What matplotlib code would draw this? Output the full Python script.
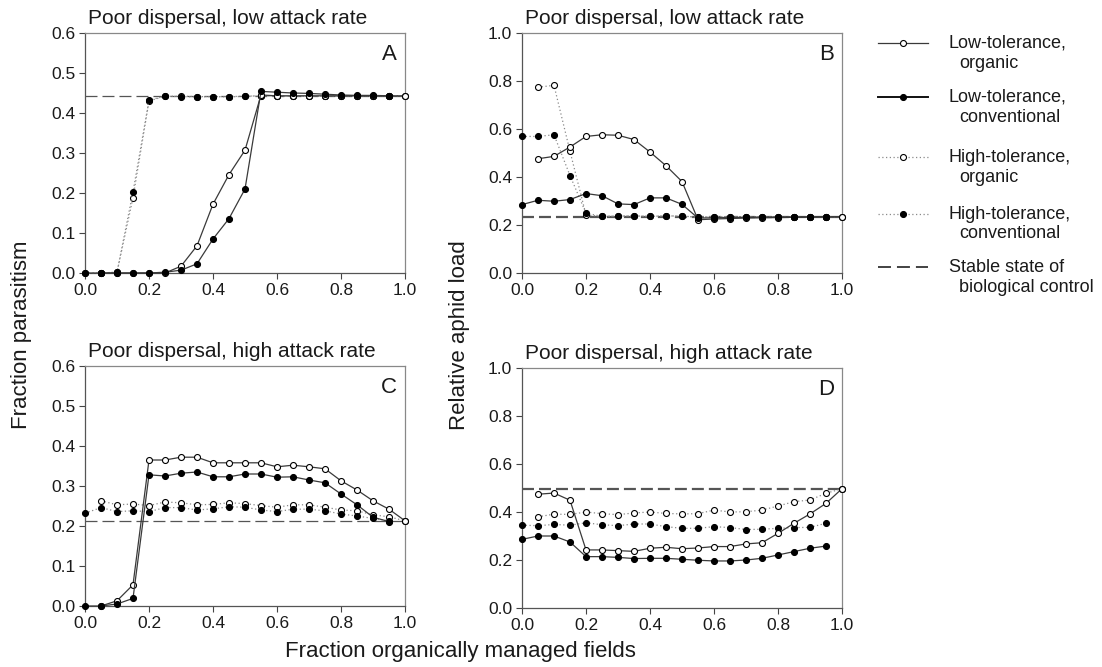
import matplotlib
matplotlib.use("Agg")
import matplotlib.pyplot as plt
from matplotlib.lines import Line2D

plt.rcParams['font.family'] = ['Liberation Sans', 'DejaVu Sans']

# ---------------- data ----------------
x_conv = [0.00, 0.05, 0.10, 0.15, 0.20, 0.25, 0.30, 0.35, 0.40, 0.45,
          0.50, 0.55, 0.60, 0.65, 0.70, 0.75, 0.80, 0.85, 0.90, 0.95]
x_org = [0.05, 0.10, 0.15, 0.20, 0.25, 0.30, 0.35, 0.40, 0.45, 0.50,
         0.55, 0.60, 0.65, 0.70, 0.75, 0.80, 0.85, 0.90, 0.95, 1.00]

# Panel A: fraction parasitism, poor dispersal, low attack rate
A_lo_org = [0.0, 0.0, 0.0, 0.0, 0.0, 0.017, 0.068, 0.172, 0.246, 0.307,
            0.445, 0.443, 0.443, 0.443, 0.443, 0.443, 0.443, 0.443, 0.443, 0.443]
A_lo_conv = [0.0, 0.0, 0.0, 0.0, 0.0, 0.002, 0.007, 0.023, 0.085, 0.136,
             0.210, 0.454, 0.452, 0.450, 0.449, 0.447, 0.445, 0.444, 0.444, 0.443]
A_hi_org = [0.0, 0.002, 0.188, 0.430, 0.442, 0.442, 0.441, 0.441, 0.441, 0.442,
            0.443, 0.442, 0.442, 0.442, 0.442, 0.442, 0.443, 0.443, 0.443, 0.443]
A_hi_conv = [0.0, 0.0, 0.002, 0.203, 0.432, 0.442, 0.441, 0.440, 0.441, 0.440,
             0.442, 0.443, 0.442, 0.442, 0.442, 0.442, 0.442, 0.443, 0.443, 0.443]
A_stable = 0.443

# Panel B: relative aphid load, poor dispersal, low attack rate
B_lo_org = [0.476, 0.486, 0.525, 0.569, 0.576, 0.574, 0.556, 0.504, 0.447, 0.381,
            0.222, 0.225, 0.227, 0.229, 0.230, 0.231, 0.232, 0.233, 0.234, 0.235]
B_lo_conv = [0.285, 0.303, 0.299, 0.306, 0.331, 0.322, 0.288, 0.285, 0.313, 0.313,
             0.286, 0.229, 0.230, 0.231, 0.232, 0.233, 0.233, 0.234, 0.234, 0.235]
B_hi_org = [0.774, 0.782, 0.507, 0.242, 0.236, 0.237, 0.238, 0.236, 0.238, 0.237,
            0.233, 0.235, 0.235, 0.235, 0.235, 0.235, 0.235, 0.235, 0.235, 0.235]
B_hi_conv = [0.569, 0.569, 0.576, 0.406, 0.249, 0.236, 0.237, 0.238, 0.236, 0.238,
             0.237, 0.232, 0.235, 0.235, 0.235, 0.235, 0.235, 0.235, 0.235, 0.235]
B_stable = 0.235

# Panel C: fraction parasitism, poor dispersal, high attack rate
C_lo_org = [0.0, 0.013, 0.053, 0.365, 0.365, 0.372, 0.372, 0.358, 0.358, 0.358,
            0.358, 0.348, 0.352, 0.348, 0.343, 0.313, 0.290, 0.263, 0.242, 0.213]
C_lo_conv = [0.0, 0.0, 0.005, 0.019, 0.328, 0.325, 0.332, 0.335, 0.323, 0.323,
             0.330, 0.330, 0.322, 0.323, 0.315, 0.308, 0.280, 0.253, 0.222, 0.211]
C_hi_org = [0.263, 0.253, 0.255, 0.251, 0.260, 0.258, 0.253, 0.254, 0.258, 0.256,
            0.251, 0.247, 0.253, 0.253, 0.247, 0.240, 0.238, 0.228, 0.223, 0.213]
C_hi_conv = [0.232, 0.246, 0.236, 0.238, 0.236, 0.246, 0.246, 0.240, 0.243, 0.248,
             0.247, 0.240, 0.236, 0.242, 0.242, 0.238, 0.230, 0.225, 0.219, 0.213]
C_stable = 0.212

# Panel D: relative aphid load, poor dispersal, high attack rate
D_lo_org = [0.474, 0.479, 0.449, 0.242, 0.242, 0.239, 0.236, 0.249, 0.253, 0.247,
            0.250, 0.256, 0.256, 0.267, 0.272, 0.311, 0.353, 0.392, 0.436, 0.497]
D_lo_conv = [0.286, 0.300, 0.300, 0.275, 0.214, 0.214, 0.211, 0.206, 0.207, 0.207,
             0.203, 0.199, 0.196, 0.196, 0.200, 0.207, 0.221, 0.235, 0.249, 0.258]
D_hi_org = [0.380, 0.391, 0.390, 0.400, 0.393, 0.389, 0.396, 0.400, 0.394, 0.392,
            0.393, 0.408, 0.400, 0.401, 0.408, 0.425, 0.443, 0.450, 0.478, 0.497]
D_hi_conv = [0.345, 0.343, 0.348, 0.345, 0.355, 0.347, 0.343, 0.350, 0.350, 0.339,
             0.332, 0.332, 0.339, 0.335, 0.327, 0.328, 0.332, 0.335, 0.336, 0.353]
D_stable = 0.495

titles = ["Poor dispersal, low attack rate", "Poor dispersal, low attack rate",
          "Poor dispersal, high attack rate", "Poor dispersal, high attack rate"]
letters = ["A", "B", "C", "D"]
legend_labels = [("Low-tolerance,", "organic"), ("Low-tolerance,", "conventional"),
                 ("High-tolerance,", "organic"), ("High-tolerance,", "conventional"),
                 ("Stable state of", "biological control")]

# ---------------- figure ----------------
W, H = 1102, 667
fig = plt.figure(figsize=(W / 100, H / 100), dpi=100)

def rect(l, r, t, b):
    return [l / W, (H - b) / H, (r - l) / W, (b - t) / H]

axA = fig.add_axes(rect(85, 405, 33, 273))
axB = fig.add_axes(rect(522, 842, 33, 273))
axC = fig.add_axes(rect(85, 405, 366, 606))
axD = fig.add_axes(rect(522, 842, 368, 608))

SOLID = dict(color='#3a3a3a', lw=0.9, ls='-')
DOT = dict(color='#8a8a8a', lw=0.9, ls=(0, (1, 2)))
MS = 4.3
OPEN = dict(marker='o', ms=MS, mfc='white', mec='black', mew=0.8)
FILL = dict(marker='o', ms=MS, mfc='black', mec='black', mew=0.8)
DASH = dict(color='#555555', lw=1.1, ls=(0, (7, 3.5)))

panels = [
    (axA, A_lo_org, A_lo_conv, A_hi_org, A_hi_conv, A_stable, 0.6, 0.1, 0.9),
    (axB, B_lo_org, B_lo_conv, B_hi_org, B_hi_conv, B_stable, 1.0, 0.2, 1.6),
    (axC, C_lo_org, C_lo_conv, C_hi_org, C_hi_conv, C_stable, 0.6, 0.1, 0.9),
    (axD, D_lo_org, D_lo_conv, D_hi_org, D_hi_conv, D_stable, 1.0, 0.2, 1.6),
]

for i, (ax, lo_org, lo_conv, hi_org, hi_conv, stable, ymax, ystep, dlw) in enumerate(panels):
    dash = dict(DASH)
    dash['lw'] = dlw
    dash['ls'] = (0, (12 / (dlw * 1.39), 5 / (dlw * 1.39)))
    ax.axhline(stable, zorder=1, **dash)
    ax.plot(x_org, hi_org, zorder=2, **DOT, **OPEN)
    ax.plot(x_conv, hi_conv, zorder=3, **DOT, **FILL)
    ax.plot(x_org, lo_org, zorder=4, **SOLID, **OPEN)
    ax.plot(x_conv, lo_conv, zorder=5, **SOLID, **FILL)
    ax.set_xlim(0, 1.0)
    ax.set_ylim(0, ymax)
    ax.set_xticks([0.0, 0.2, 0.4, 0.6, 0.8, 1.0])
    nt = int(round(ymax / ystep)) + 1
    ax.set_yticks([round(k * ystep, 1) for k in range(nt)])
    ax.xaxis.set_major_formatter(matplotlib.ticker.FormatStrFormatter('%.1f'))
    ax.yaxis.set_major_formatter(matplotlib.ticker.FormatStrFormatter('%.1f'))
    ax.tick_params(direction='out', length=4, width=0.8, color='#444444',
                   labelsize=12.5, pad=3, labelcolor='#1a1a1a')
    for sp in ax.spines.values():
        sp.set_color('#555555')
        sp.set_linewidth(0.9)
    for sp in ('top', 'right'):
        ax.spines[sp].set_color('#888888')
    ax.text(0.01, 1.02, titles[i], transform=ax.transAxes, ha='left', va='bottom',
            fontsize=15, color='#1a1a1a')
    ax.text(0.975, 0.955, letters[i], transform=ax.transAxes, ha='right', va='top',
            fontsize=16, color='#1a1a1a')
    for ln in ax.lines:
        ln.set_clip_on(False)

fig.text(22 / W, 1 - 335 / H, "Fraction parasitism", rotation=90, ha='center',
         va='center', fontsize=16, color='#1a1a1a')
fig.text(460 / W, 1 - 335 / H, "Relative aphid load", rotation=90, ha='center',
         va='center', fontsize=16, color='#1a1a1a')
fig.text(460 / W, 1 - 651 / H, "Fraction organically managed fields", ha='center',
         va='center', fontsize=16, color='#1a1a1a')

# ---------------- manual legend ----------------
leg_styles = [(SOLID, OPEN), (SOLID, FILL), (DOT, OPEN), (DOT, FILL), (DASH, None)]
leg_y = [43, 97, 157, 214, 267]
for (lstyle, mstyle), y, (l1, l2) in zip(leg_styles, leg_y, legend_labels):
    fy = 1 - y / H
    st = dict(lstyle)
    if lstyle is DASH:
        st['color'] = '#222222'
        st['lw'] = 1.2
        st['ls'] = (0, (13 / 1.67, 6 / 1.67))
    if lstyle is SOLID and mstyle is FILL:
        st['lw'] = 1.4
        st['color'] = '#111111'
    fig.add_artist(Line2D([878 / W, 928 / W], [fy, fy], transform=fig.transFigure, **st))
    if mstyle is not None:
        fig.add_artist(Line2D([903 / W], [fy], transform=fig.transFigure, ls='none',
                              **mstyle))
    fig.text(949 / W, fy, l1, ha='left', va='center', fontsize=13, color='#1a1a1a')
    fig.text(959 / W, 1 - (y + 20) / H, l2, ha='left', va='center', fontsize=13,
             color='#1a1a1a')

fig.savefig("out.png", dpi=100)
